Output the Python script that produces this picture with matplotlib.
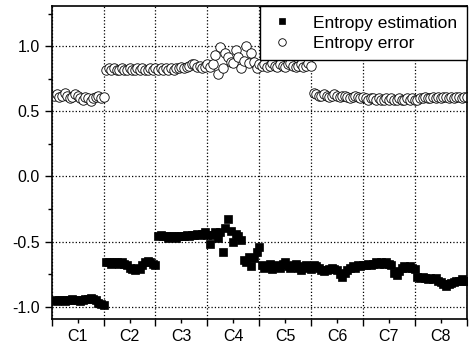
import numpy as np
import matplotlib
matplotlib.use("Agg")
import matplotlib.pyplot as plt
from matplotlib.ticker import MultipleLocator, FixedLocator

plt.rcParams['font.family'] = ['Liberation Sans', 'DejaVu Sans']
plt.rcParams['axes.unicode_minus'] = False

classes = ["C1", "C2", "C3", "C4", "C5", "C6", "C7", "C8"]

# entropy estimation per class (20 samples each)
est_c1 = [-0.95, -0.96, -0.95, -0.95, -0.96, -0.95, -0.95, -0.94, -0.95, -0.95,
          -0.96, -0.95, -0.94, -0.94, -0.93, -0.94, -0.95, -0.97, -0.98, -0.99]
est_c2 = [-0.66, -0.66, -0.67, -0.66, -0.66, -0.67, -0.66, -0.67, -0.68, -0.70,
          -0.71, -0.72, -0.70, -0.71, -0.68, -0.66, -0.65, -0.66, -0.67, -0.68]
est_c3 = [-0.46, -0.45, -0.46, -0.46, -0.47, -0.46, -0.46, -0.47, -0.46, -0.46,
          -0.46, -0.45, -0.46, -0.45, -0.45, -0.44, -0.45, -0.44, -0.43, -0.45]
est_c4 = [-0.52, -0.45, -0.43, -0.47, -0.43, -0.58, -0.40, -0.33, -0.42, -0.50,
          -0.44, -0.46, -0.49, -0.64, -0.66, -0.62, -0.69, -0.63, -0.58, -0.54]
est_c5 = [-0.68, -0.70, -0.69, -0.67, -0.71, -0.69, -0.68, -0.70, -0.67, -0.66,
          -0.69, -0.70, -0.68, -0.67, -0.70, -0.72, -0.69, -0.68, -0.70, -0.71]
est_c6 = [-0.68, -0.69, -0.70, -0.72, -0.73, -0.72, -0.71, -0.70, -0.71, -0.72,
          -0.75, -0.77, -0.74, -0.72, -0.70, -0.69, -0.70, -0.68, -0.69, -0.68]
est_c7 = [-0.68, -0.67, -0.68, -0.67, -0.66, -0.67, -0.66, -0.67, -0.66, -0.67,
          -0.68, -0.74, -0.76, -0.73, -0.70, -0.69, -0.70, -0.69, -0.70, -0.71]
est_c8 = [-0.77, -0.78, -0.77, -0.78, -0.79, -0.78, -0.79, -0.78, -0.80, -0.81,
          -0.83, -0.84, -0.83, -0.82, -0.81, -0.80, -0.80, -0.79, -0.80, -0.80]

# entropy error per class
err_c1 = [0.62, 0.63, 0.61, 0.62, 0.64, 0.62, 0.60, 0.61, 0.63, 0.62,
          0.60, 0.59, 0.61, 0.60, 0.58, 0.60, 0.61, 0.62, 0.60, 0.61]
err_c2 = [0.82, 0.83, 0.82, 0.83, 0.82, 0.82, 0.83, 0.82, 0.82, 0.83,
          0.82, 0.82, 0.83, 0.82, 0.83, 0.82, 0.82, 0.83, 0.82, 0.83]
err_c3 = [0.82, 0.83, 0.82, 0.83, 0.82, 0.83, 0.82, 0.83, 0.83, 0.84,
          0.83, 0.84, 0.85, 0.86, 0.86, 0.84, 0.85, 0.83, 0.84, 0.86]
err_c4 = [0.84, 0.86, 0.93, 0.79, 0.99, 0.83, 0.95, 0.92, 0.88, 0.87,
          0.97, 0.92, 0.83, 0.89, 1.00, 0.87, 0.95, 0.88, 0.83, 0.86]
err_c5 = [0.85, 0.86, 0.84, 0.85, 0.87, 0.85, 0.84, 0.86, 0.85, 0.84,
          0.86, 0.87, 0.85, 0.84, 0.85, 0.86, 0.84, 0.85, 0.87, 0.85]
err_c6 = [0.64, 0.63, 0.62, 0.62, 0.63, 0.62, 0.61, 0.62, 0.63, 0.62,
          0.61, 0.62, 0.62, 0.61, 0.60, 0.61, 0.62, 0.61, 0.60, 0.61]
err_c7 = [0.60, 0.59, 0.60, 0.60, 0.59, 0.60, 0.59, 0.59, 0.60, 0.59,
          0.60, 0.59, 0.59, 0.60, 0.59, 0.59, 0.60, 0.59, 0.60, 0.59]
err_c8 = [0.59, 0.60, 0.60, 0.61, 0.60, 0.60, 0.61, 0.60, 0.61, 0.60,
          0.61, 0.61, 0.60, 0.61, 0.60, 0.61, 0.61, 0.60, 0.61, 0.61]

estimation = np.concatenate([est_c1, est_c2, est_c3, est_c4,
                             est_c5, est_c6, est_c7, est_c8])
error = np.concatenate([err_c1, err_c2, err_c3, err_c4,
                        err_c5, err_c6, err_c7, err_c8])
n_per = len(est_c1)
sample = np.arange(1, len(estimation) + 1)

fig = plt.figure(figsize=(4.7, 3.43), dpi=100)
ax = fig.add_axes([0.110, 0.070, 0.883, 0.913])

ax.plot(sample, estimation, ls='none', marker='s', ms=5.8, mfc='black',
        mec='black', mew=0.5, label='Entropy estimation')
ax.plot(sample, error, ls='none', marker='o', ms=6.8, mfc='white',
        mec='black', mew=0.6, label='Entropy error')

ax.set_xlim(0, n_per * len(classes))
ax.set_ylim(-1.095, 1.31)

# class boundaries as major ticks, class names centred as minor ticks
ax.xaxis.set_major_locator(FixedLocator(np.arange(0, n_per * len(classes) + 1, n_per)))
ax.xaxis.set_minor_locator(FixedLocator(np.arange(n_per / 2, n_per * len(classes), n_per)))
ax.set_xticklabels([])
ax.set_xticklabels(classes, minor=True)

ax.yaxis.set_major_locator(MultipleLocator(0.5))
ax.yaxis.set_minor_locator(MultipleLocator(0.25))
ax.yaxis.set_major_formatter(plt.FormatStrFormatter('%.1f'))

ax.tick_params(which='major', direction='out', length=5, width=1, labelsize=11.5)
ax.tick_params(which='minor', direction='out', length=3, width=1)
ax.tick_params(axis='x', which='minor', labelsize=11.5, pad=4)

ax.grid(True, which='major', ls=':', lw=0.9, color='black')
for s in ax.spines.values():
    s.set_linewidth(1.2)

leg = ax.legend(loc='upper right', borderaxespad=0, fancybox=False,
                edgecolor='black', framealpha=1, fontsize=12.5,
                handlelength=1.4, handletextpad=1.1, labelspacing=0.3,
                borderpad=0.55, markerscale=0.8)
leg.get_frame().set_linewidth(1.0)

fig.savefig("out.png", dpi=100)
